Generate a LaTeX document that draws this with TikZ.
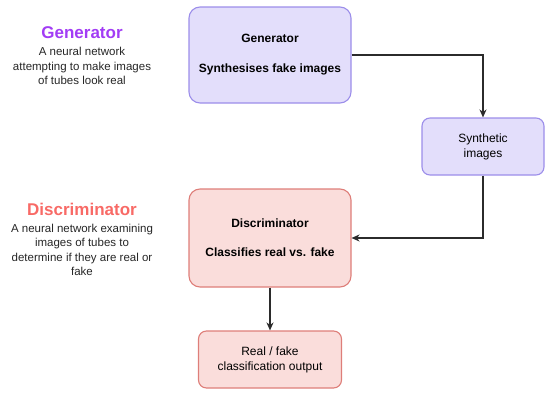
\documentclass[tikz,border=0pt]{standalone}
\usepackage{fontspec}
\setmainfont{Liberation Sans}
\usetikzlibrary{arrows.meta, positioning}
\definecolor{genfill}{HTML}{E3DEFB}
\definecolor{gendraw}{HTML}{9C8EEA}
\definecolor{disfill}{HTML}{FADDDB}
\definecolor{disdraw}{HTML}{DE7E79}
\definecolor{gentitle}{HTML}{A23CF5}
\definecolor{distitle}{HTML}{F86A66}
\definecolor{wire}{HTML}{2B2B2B}
\tikzset{
  genbox/.style={draw=gendraw, fill=genfill, line width=1.1pt, rounded corners=11pt, align=center, font=\fontsize{12}{15}\selectfont},
  disbox/.style={draw=disdraw, fill=disfill, line width=1.1pt, rounded corners=11pt, align=center, font=\fontsize{12}{15}\selectfont},
  sidetext/.style={align=center, font=\fontsize{11.5}{14.5}\selectfont, text=black!85},
  flow/.style={draw=wire, line width=1.1pt, -{Stealth[length=8pt, width=7pt, inset=2.5pt]}}
}
\begin{document}
\begin{tikzpicture}[x=1pt, y=-1pt]
\useasboundingbox (0,0) rectangle (550,394);
% boxes of the pipeline
\node[genbox, minimum width=162pt, minimum height=96pt] (gen) at (270,55) {\textbf{Generator}\\[15pt]\textbf{Synthesises fake images}};
\node[genbox, rounded corners=8pt, minimum width=122pt, minimum height=57pt] (syn) at (483,146.5) {Synthetic\\images};
\node[disbox, minimum width=162pt, minimum height=98pt] (dis) at (270,238) {\textbf{Discriminator}\\[14pt]\textbf{Classifies real vs. fake}};
\node[disbox, rounded corners=8pt, minimum width=143pt, minimum height=57pt] (out) at (270,359.5) {Real / fake\\classification output};
% side descriptions
\node[font=\fontsize{17}{20}\selectfont\bfseries, text=gentitle] (gentxt) at (82,33) {Generator};
\node[sidetext, anchor=north] (gendesc) at (82,44) {A neural network\\attempting to make images\\of tubes look real};
\node[font=\fontsize{17}{20}\selectfont\bfseries, text=distitle] (distxt) at (82,209.5) {Discriminator};
\node[sidetext, anchor=north] (disdesc) at (82,220.5) {A neural network examining\\images of tubes to\\determine if they are real or\\fake};
% arrows
\draw[flow] (gen.east) -| (syn.north);
\draw[flow] (syn.south) |- (dis.east);
\draw[flow] (dis.south) -- (out.north);
\end{tikzpicture}
\end{document}
